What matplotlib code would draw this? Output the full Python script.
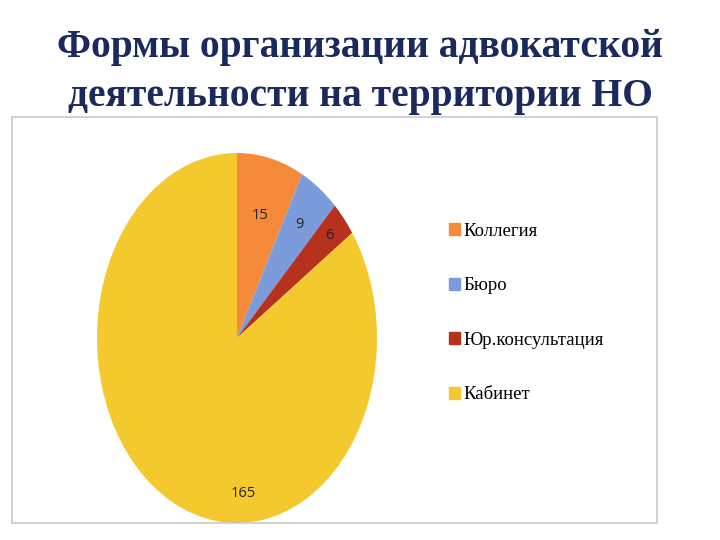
import numpy as np
import matplotlib.pyplot as plt
from matplotlib.patches import Rectangle

# data
labels = ['Коллегия', 'Бюро', 'Юр.консультация', 'Кабинет']
values = [15, 9, 6, 165]
colors = ['#F58A3A', '#7B9BDB', '#B5321F', '#F4C92E']
# label placement: distance from centre and angle (None = middle of wedge)
label_dist = [0.68, 0.76, 0.86, 0.84]
label_ang = [None, None, None, -87]

W, H = 720, 540
fig = plt.figure(figsize=(7.2, 5.4), dpi=100)

# title
fig.text(360 / W, 1 - 72 / H, 'Формы организации адвокатской\nдеятельности на территории НО',
         ha='center', va='center', fontsize=28.5, fontweight='bold',
         family='Liberation Serif', color='#1B2A5C', linespacing=1.4)

# chart frame
fig.patches.append(Rectangle((12 / W, 1 - 523 / H), 645 / W, 406 / H,
                             transform=fig.transFigure, fill=False,
                             edgecolor='#C8C8C8', linewidth=1.2))

# pie (stretched into an ellipse like the original)
ax = fig.add_axes([97 / W, 1 - 523 / H, 280 / W, 370 / H])
wedges, _ = ax.pie(values, colors=colors, startangle=90, counterclock=False,
                   wedgeprops=dict(linewidth=0))
ax.set_aspect('auto')
ax.set_xlim(-1, 1)
ax.set_ylim(-1, 1)
ax.axis('off')

for w, v, d, a in zip(wedges, values, label_dist, label_ang):
    ang = np.deg2rad((w.theta1 + w.theta2) / 2 if a is None else a)
    ax.text(d * np.cos(ang), d * np.sin(ang), str(v), ha='center', va='center',
            fontsize=10.5, color='#222222', family='Open Sans')

# legend
handles = [Rectangle((0, 0), 1, 1, color=c) for c in colors]
fig.legend(handles, labels, loc='center left', bbox_to_anchor=(432 / W, 1 - 313 / H),
           frameon=False, prop=dict(family='Liberation Serif', size=13.5),
           handlelength=0.6, handleheight=0.6, handletextpad=0.2, labelspacing=2.0)

fig.savefig('out.png', dpi=100)
